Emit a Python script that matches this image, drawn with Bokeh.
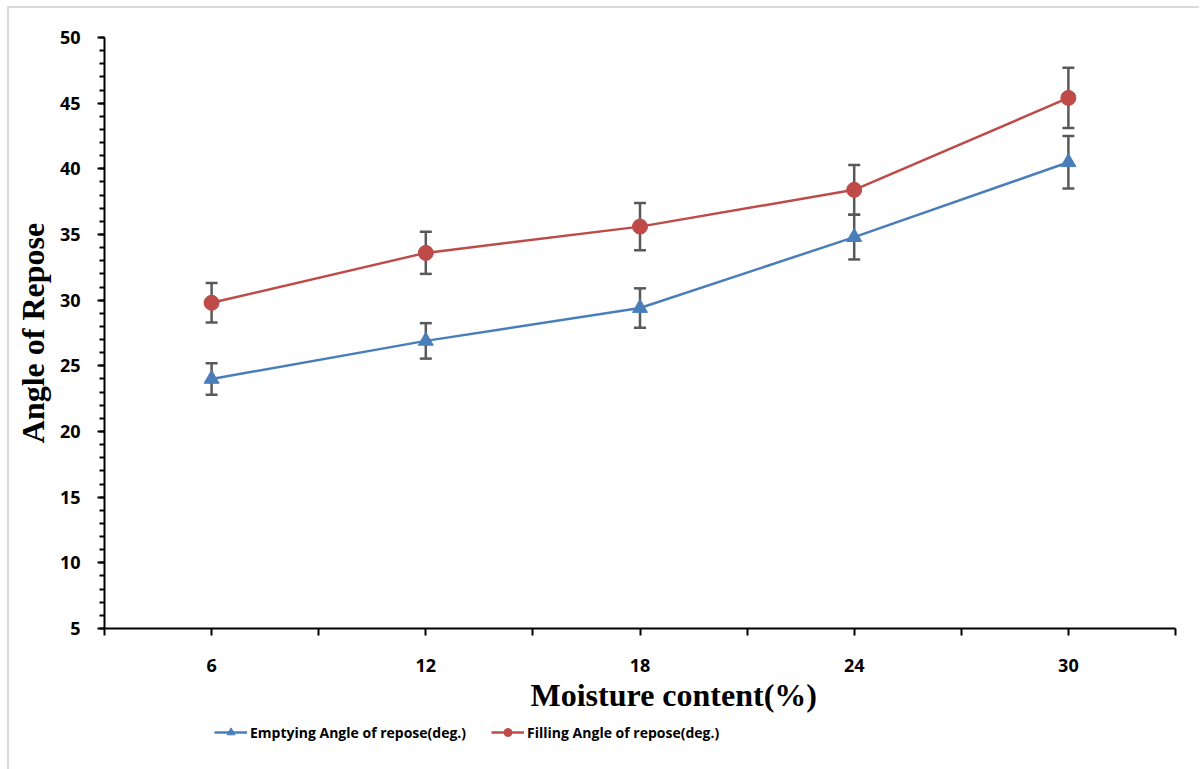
from bokeh.plotting import figure
from bokeh.layouts import column
from bokeh.models import Range1d, FixedTicker, Legend, LegendItem, Title
from bokeh.embed import file_html
from bokeh.resources import INLINE

# ---- data ----
moisture = [6, 12, 18, 24, 30]
emptying = [24.0, 26.9, 29.4, 34.8, 40.5]
emptying_err = [1.2, 1.35, 1.5, 1.7, 2.0]
filling = [29.8, 33.6, 35.6, 38.4, 45.4]
filling_err = [1.5, 1.6, 1.8, 1.9, 2.3]
x_ticks = [3, 6, 9, 12, 15, 18, 21, 24, 27, 30, 33]
y_ticks = [5, 10, 15, 20, 25, 30, 35, 40, 45, 50]
series_names = ["Emptying Angle of repose(deg.)", "Filling Angle of repose(deg.)"]

BLUE = "#4a7ebb"
RED = "#be4b48"
ERR = "#595959"

p = figure(width=1190, height=712, output_backend="svg", toolbar_location=None,
           x_range=Range1d(3, 33), y_range=Range1d(5, 50),
           min_border_left=95, min_border_top=29, min_border_right=24, min_border_bottom=92)
p.outline_line_color = None
p.xgrid.visible = False
p.ygrid.visible = False

# axes
p.xaxis.ticker = FixedTicker(ticks=x_ticks)
p.xaxis.major_label_overrides = {t: ("" if t not in moisture else str(t)) for t in x_ticks}
p.yaxis.ticker = FixedTicker(ticks=y_ticks, minor_ticks=list(range(5, 51)))
for ax in (p.xaxis[0], p.yaxis[0]):
    ax.axis_line_color = "black"
    ax.axis_line_width = 2
    ax.major_tick_line_color = "black"
    ax.major_tick_line_width = 2
    ax.major_tick_in = 0
    ax.major_tick_out = 7
    ax.major_label_text_font = "Open Sans"
    ax.major_label_text_font_style = "bold"
    ax.major_label_text_font_size = "18px"
    ax.major_label_text_color = "black"
    ax.axis_label_text_font = "Liberation Serif"
    ax.axis_label_text_font_style = "bold"
    ax.axis_label_text_color = "black"
p.xaxis.minor_tick_line_color = None
p.yaxis.minor_tick_line_color = "black"
p.yaxis.minor_tick_line_width = 2
p.yaxis.minor_tick_in = 0
p.yaxis.minor_tick_out = 5

p.xaxis.major_label_standoff = 23
p.yaxis.axis_label = "Angle of Repose"
p.yaxis.axis_label_text_font_size = "32px"
p.yaxis.major_label_standoff = 17
p.yaxis.axis_label_standoff = 6

# x-axis title (placed as a below title so it can sit right of centre, as in the source)
xt = Title(text="Moisture content(%)", align="left", offset=426,
           text_font="Liberation Serif", text_font_style="bold",
           text_font_size="32px", text_color="black", standoff=0)
p.add_layout(xt, "below")

# error bars
for ys, es in ((emptying, emptying_err), (filling, filling_err)):
    lo = [y - e for y, e in zip(ys, es)]
    hi = [y + e for y, e in zip(ys, es)]
    p.segment(x0=moisture, y0=lo, x1=moisture, y1=hi, line_color=ERR, line_width=2.5)
    p.scatter(x=moisture + moisture, y=lo + hi, marker="dash", size=12,
              line_color=ERR, line_width=2.5)

# series
p.line(moisture, emptying, line_color=BLUE, line_width=2.5)
p.scatter(moisture, emptying, marker="triangle", size=15, fill_color=BLUE, line_color=BLUE)
p.line(moisture, filling, line_color=RED, line_width=2.5)
p.scatter(moisture, filling, marker="circle", size=15, fill_color=RED, line_color=RED)

# legend strip below the chart (same styles, kept out of view in its own figure)
lg = figure(width=1190, height=40, output_backend="svg", toolbar_location=None,
            x_range=Range1d(0, 1), y_range=Range1d(0, 1),
            min_border=0, min_border_left=0, min_border_right=0,
            min_border_top=0, min_border_bottom=0)
lg.axis.visible = False
lg.grid.visible = False
lg.outline_line_color = None
l1 = lg.line([-5, -4], [-5, -5], line_color=BLUE, line_width=2.5)
m1 = lg.scatter([-5], [-5], marker="triangle", size=15, fill_color=BLUE, line_color=BLUE)
l2 = lg.line([-5, -4], [-5, -5], line_color=RED, line_width=2.5)
m2 = lg.scatter([-5], [-5], marker="circle", size=15, fill_color=RED, line_color=RED)
legend = Legend(items=[
    LegendItem(label=series_names[0], renderers=[l1, m1]),
    LegendItem(label=series_names[1], renderers=[l2, m2]),
], orientation="horizontal", location=(110, 18))
legend.border_line_color = None
legend.background_fill_alpha = 0
legend.label_text_font = "Open Sans"
legend.label_text_font_style = "bold"
legend.label_text_font_size = "14px"
legend.label_text_color = "black"
legend.glyph_width = 33
legend.label_standoff = 3
legend.spacing = 25
legend.padding = 4
legend.margin = 0
lg.add_layout(legend, "center")

layout = column(p, lg, spacing=0)
layout.styles = {"margin-left": "7px", "margin-top": "6px", "padding-bottom": "20px",
                 "border-left": "2px solid #dadada", "border-top": "2px solid #dadada"}

open("out.html", "w").write(file_html(layout, INLINE))
